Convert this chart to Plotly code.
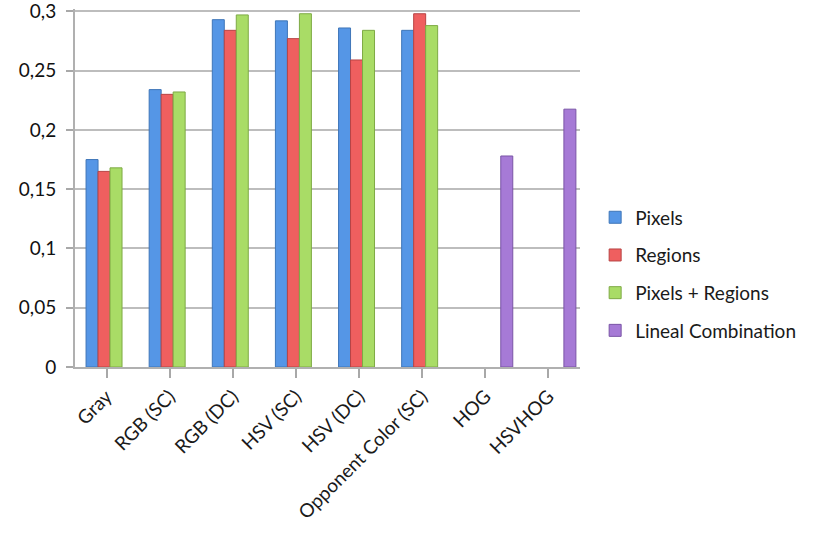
import plotly.graph_objects as go

# Categories (descriptor types)
categories = ["Gray", "RGB (SC)", "RGB (DC)", "HSV (SC)", "HSV (DC)",
              "Opponent Color (SC)", "HOG", "HSVHOG"]

# Series values
pixels = [0.175, 0.234, 0.293, 0.292, 0.286, 0.284, None, None]
regions = [0.165, 0.230, 0.284, 0.277, 0.259, 0.298, None, None]
pixels_regions = [0.168, 0.232, 0.297, 0.298, 0.284, 0.288, None, None]
lineal_combination = [None, None, None, None, None, None, 0.178, 0.2175]

series_names = ["Pixels", "Regions", "Pixels + Regions", "Lineal Combination"]

# Y-axis ticks
y_tickvals = [0, 0.05, 0.1, 0.15, 0.2, 0.25, 0.3]
y_ticktext = ["0", "0,05", "0,1", "0,15", "0,2", "0,25", "0,3"]

FONT = "Lato, 'Open Sans', sans-serif"
fills = ["#5596e6", "#ef5f5f", "#a9dc66", "#a67ad6"]
edges = ["#3f76b8", "#b84444", "#7eaa45", "#7a55a6"]

fig = go.Figure()
slot = 0.19
shift = 0.055
for i, (name, vals) in enumerate(zip(series_names,
                                     [pixels, regions, pixels_regions, lineal_combination])):
    fig.add_trace(go.Bar(
        x=list(range(len(categories))),
        y=vals,
        name=name,
        width=slot,
        offset=-2 * slot + shift + i * slot,
        marker=dict(color=fills[i], line=dict(color=edges[i], width=1)),
        legendgroup=name,
    ))

fig.update_layout(
    width=816,
    height=544,
    margin=dict(l=75, r=236, t=9, b=177),
    paper_bgcolor="white",
    plot_bgcolor="white",
    font=dict(family=FONT, color="#1a1a1a"),
    barmode="overlay",
    showlegend=True,
    legend=dict(
        x=1.03, y=0.26, xanchor="left", yanchor="middle",
        font=dict(size=19, family=FONT, color="#1a1a1a"),
        traceorder="grouped",
        tracegroupgap=10,
        itemwidth=30,
        bgcolor="rgba(0,0,0,0)",
    ),
    xaxis=dict(
        range=[-0.5, len(categories) - 0.5],
        tickmode="array",
        tickvals=list(range(len(categories))),
        ticktext=categories,
        tickangle=-45,
        tickfont=dict(size=19, family=FONT, color="#1a1a1a"),
        ticks="outside",
        tickson="boundaries",
        ticklen=9,
        tickcolor="#a8a8a8",
        tickwidth=1.5,
        showline=True,
        linecolor="#b0b0b0",
        linewidth=2,
        showgrid=False,
        zeroline=False,
        automargin=False,
    ),
    yaxis=dict(
        range=[0, 0.302],
        tickmode="array",
        tickvals=y_tickvals,
        ticktext=y_ticktext,
        tickfont=dict(size=19, family=FONT, color="#111111"),
        ticks="outside",
        ticklen=7,
        tickcolor="#a8a8a8",
        tickwidth=1.5,
        ticklabelstandoff=6,
        ticklabeloverflow="allow",
        showline=True,
        linecolor="#b0b0b0",
        linewidth=2,
        showgrid=True,
        gridcolor="#bdbdbd",
        gridwidth=1.5,
        zeroline=False,
        automargin=False,
    ),
)

fig.write_html("out.html")
